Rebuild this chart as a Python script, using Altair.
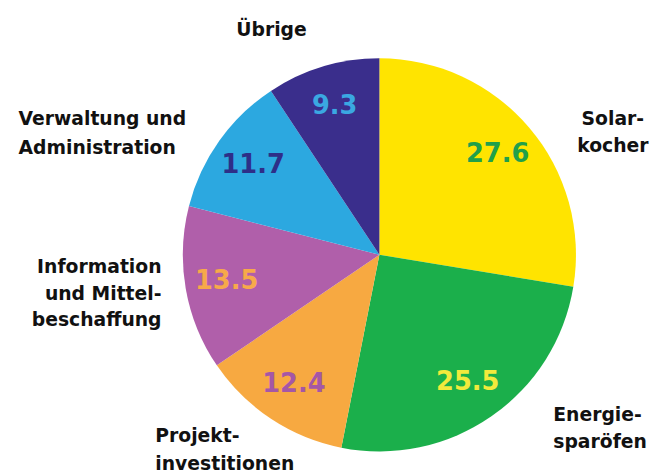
import altair as alt
import pandas as pd

# ---- data ----
categories = [
    "Solarkocher",
    "Energiesparöfen",
    "Projektinvestitionen",
    "Information und Mittelbeschaffung",
    "Verwaltung und Administration",
    "Übrige",
]
values = [27.6, 25.5, 12.4, 13.5, 11.7, 9.3]
value_labels = ["27.6", "25.5", "12.4", "13.5", "11.7", "9.3"]
outer_labels = [
    "Solar-\nkocher",
    "Energie-\nsparöfen",
    "Projekt-\ninvestitionen",
    "Information\nund Mittel-\nbeschaffung",
    "Verwaltung und\nAdministration",
    "Übrige",
]
slice_colors = ["#FFE400", "#1BAF4B", "#F7A941", "#B05FAA", "#2CA8E0", "#3A2E8C"]
number_colors = ["#21A04A", "#F2EA3C", "#A557A6", "#F7A94A", "#2E2E88", "#3AA8E2"]

df = pd.DataFrame({
    "idx": list(range(len(categories))),
    "category": categories,
    "value": values,
    "vlabel": value_labels,
    "outer": outer_labels,
})

FONT = "DejaVu Sans"
CX, CY = 376, 247

base = alt.Chart(df).transform_stack(
    stack="value", groupby=[], as_=["v0", "v1"],
    sort=[alt.SortField("idx", order="ascending")],
).transform_calculate(mid="(datum.v0 + datum.v1) / 2")

theta_scale = alt.Scale(domain=[0, 100])

pie = base.mark_arc(radius=199).encode(
    x=alt.value(CX), y=alt.value(CY),
    theta=alt.Theta("v0:Q", scale=theta_scale, stack=None),
    theta2="v1:Q",
    color=alt.Color("category:N", scale=alt.Scale(domain=categories, range=slice_colors), legend=None),
)

numbers = base.mark_text(
    radius=157, font=FONT, fontSize=26, fontWeight="bold", align="center", baseline="middle"
).encode(
    x=alt.value(CX), y=alt.value(CY),
    theta=alt.Theta("mid:Q", scale=theta_scale, stack=None),
    text="vlabel:N",
    color=alt.Color("category:N", scale=alt.Scale(domain=categories, range=number_colors), legend=None),
)

# per-label placement relative to each slice's middle direction
placements = [
    ("Solarkocher", "center", 61, 11, 28),
    ("Energiesparöfen", "left", 45, -27, 28),
    ("Projektinvestitionen", "left", -100, -8, 28),
    ("Information und Mittelbeschaffung", "right", 6, -27, 27),
    ("Verwaltung und Administration", "left", -178, -4, 29),
    ("Übrige", "center", -43, -7, 28),
]

outer_layers = []
for cat, align, dx, dy, lh in placements:
    outer_layers.append(
        base.transform_filter(alt.datum.category == cat).mark_text(
            radius=230, dx=dx, dy=dy, font=FONT, fontSize=19, fontWeight="bold",
            align=align, baseline="middle", lineBreak="\n", lineHeight=lh, color="#111111",
        ).encode(
            x=alt.value(CX), y=alt.value(CY),
            theta=alt.Theta("mid:Q", scale=theta_scale, stack=None),
            text="outer:N",
        )
    )

chart = alt.layer(pie, numbers, *outer_layers).resolve_scale(
    color="independent"
).properties(
    width=652, height=467, background="white",
    autosize=alt.AutoSizeParams(type="none"), padding=0,
).configure_view(stroke=None)

chart.save("out.html", embed_options={"renderer": "svg", "actions": False})
